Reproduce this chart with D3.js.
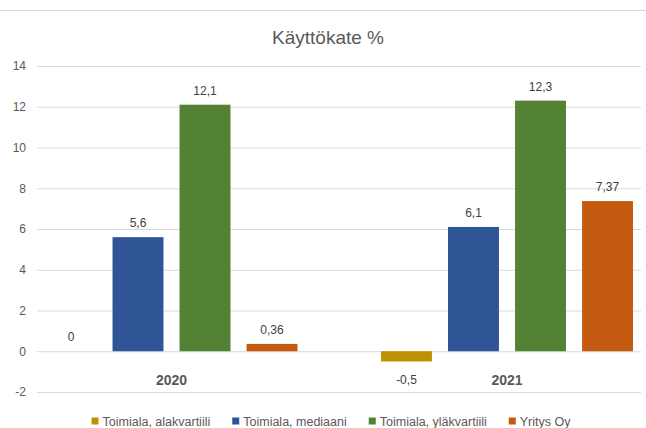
<!DOCTYPE html>
<html>
<head>
<meta charset="utf-8">
<script src="https://cdn.jsdelivr.net/npm/d3@7"></script>
<style>
  html, body { margin: 0; padding: 0; background: #fff; }
  svg { display: block; font-family: "Liberation Sans", Arial, sans-serif; }
</style>
</head>
<body>
<svg id="chart" width="646" height="428"></svg>
<script>
const title = "Käyttökate %";
const years = ["2020", "2021"];
const seriesNames = ["Toimiala, alakvartiili", "Toimiala, mediaani", "Toimiala, yläkvartiili", "Yritys Oy"];
const alakvartiili = [0, -0.5];
const mediaani = [5.6, 6.1];
const ylakvartiili = [12.1, 12.3];
const yritys = [0.36, 7.37];
const yTicks = [-2, 0, 2, 4, 6, 8, 10, 12, 14];
const colors = ["#BF9000", "#2F5597", "#548235", "#C55A11"];

const seriesValues = [alakvartiili, mediaani, ylakvartiili, yritys];
const svg = d3.select("#chart");

// top border line
svg.append("line").attr("x1", 0).attr("x2", 646).attr("y1", 10.5).attr("y2", 10.5)
  .attr("stroke", "#d9d9d9").attr("stroke-width", 1);

const y = d3.scaleLinear().domain([-2, 14]).range([392, 66]);
const x0 = d3.scaleBand().domain(years).range([3.75, 674.75]).paddingInner(0).paddingOuter(0);
const x1 = d3.scaleBand().domain(seriesNames).range([0, x0.bandwidth()]).paddingInner(0.24).paddingOuter(0.623);

const gridLeft = 37, gridRight = 641;

// title
svg.append("text").attr("x", 328).attr("y", 44).attr("text-anchor", "middle")
  .attr("fill", "#595959").attr("font-size", 19).text(title);

// y axis with gridlines
const yAxis = d3.axisLeft(y).tickValues(yTicks).tickSize(-(gridRight - gridLeft)).tickPadding(11).tickFormat(d => String(d));
const gy = svg.append("g").attr("transform", `translate(${gridLeft},0)`).call(yAxis);
gy.select(".domain").remove();
gy.selectAll(".tick line").attr("stroke", "#d9d9d9").attr("stroke-width", 1);
gy.selectAll(".tick text").attr("fill", "#595959").attr("font-size", 12)
  .attr("font-family", "Liberation Sans, Arial, sans-serif");

// bars
const rows = [];
years.forEach((yr, i) => {
  seriesNames.forEach((s, j) => rows.push({ year: yr, series: s, value: seriesValues[j][i], color: colors[j] }));
});

const fmt = v => String(v).replace(".", ",");

svg.append("g").selectAll("rect").data(rows).join("rect")
  .attr("x", d => x0(d.year) + x1(d.series))
  .attr("width", x1.bandwidth())
  .attr("y", d => y(Math.max(0, d.value)))
  .attr("height", d => Math.abs(y(d.value) - y(0)))
  .attr("fill", d => d.color);

// data labels
svg.append("g").selectAll("text").data(rows).join("text")
  .attr("x", d => x0(d.year) + x1(d.series) + x1.bandwidth() / 2)
  .attr("y", d => d.value >= 0 ? y(d.value) - 10 : y(d.value) + 23)
  .attr("text-anchor", "middle")
  .attr("fill", "#404040").attr("font-size", 12)
  .text(d => fmt(d.value));

// category labels
const xAxis = d3.axisBottom(x0).tickSize(0).tickPadding(0);
const gx = svg.append("g").attr("transform", `translate(0,${y(0)})`).call(xAxis);
gx.select(".domain").remove();
gx.selectAll(".tick text").attr("dy", null).attr("y", 34)
  .attr("fill", "#595959").attr("font-size", 14).attr("font-weight", "bold")
  .attr("font-family", "Liberation Sans, Arial, sans-serif");

// legend
const legend = svg.append("g");
let lx = 0;
seriesNames.forEach((s, j) => {
  const g = legend.append("g").attr("transform", `translate(${lx},0)`);
  g.append("rect").attr("x", 0).attr("y", -3.5).attr("width", 7).attr("height", 7).attr("fill", colors[j]);
  const t = g.append("text").attr("x", 11).attr("y", 4.5).attr("fill", "#595959").attr("font-size", 12.5).text(s);
  const w = t.node().getComputedTextLength();
  lx += 11 + w + (j < seriesNames.length - 1 ? 22 : 0);
});
legend.attr("transform", `translate(${331 - lx / 2},421)`);
</script>
</body>
</html>
